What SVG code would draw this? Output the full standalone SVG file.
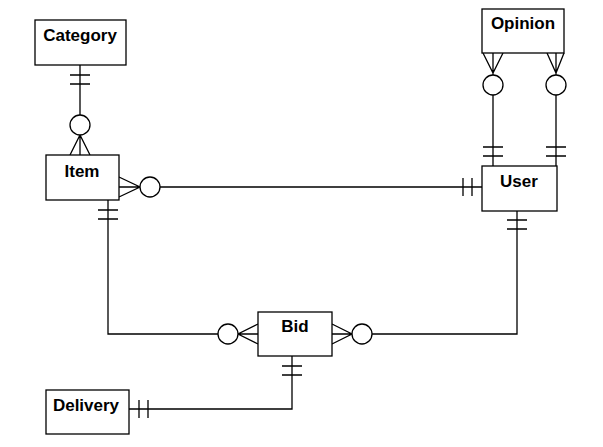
<svg xmlns="http://www.w3.org/2000/svg" width="603" height="447" viewBox="0 0 603 447">
<style>
.box{fill:#fff;stroke:#000;stroke-width:1.3}
.lbl{font-family:"Liberation Sans",Arial,sans-serif;font-weight:bold;font-size:17px;text-anchor:middle;fill:#000}
.ln{fill:none;stroke:#000;stroke-width:1.3}
.c{fill:#fff;stroke:#000;stroke-width:1.3}
</style>
<rect width="603" height="447" fill="#fff"/>
<g id="connectors">
  <!-- Category - Item -->
  <path class="ln" d="M80 65 V115 M70 75 H90 M70 84 H90 M70 155 L80 135 L90 155 M80 135 V155"/>
  <circle class="c" cx="80" cy="125" r="10"/>
  <!-- Item - User -->
  <path class="ln" d="M160 187 H482 M463 178 V196 M472 178 V196 M119 177 L140 187 L119 197 M119 187 H140"/>
  <circle class="c" cx="150" cy="187" r="10"/>
  <!-- Opinion - User (left) -->
  <path class="ln" d="M493 95 V166 M483 147 H503 M483 156 H503 M483 53 L493 73 L503 53 M493 53 V75"/>
  <circle class="c" cx="493" cy="85" r="10"/>
  <!-- Opinion - User (right) -->
  <path class="ln" d="M556 95 V166 M546 147 H566 M546 156 H566 M547 53 L556 73 L564 53 M556 53 V75"/>
  <circle class="c" cx="556" cy="85" r="10"/>
  <!-- Item - Bid -->
  <path class="ln" d="M108 200 V334 H218 M98 210 H118 M98 219 H118 M258 324 L238 334 L258 344 M238 334 H258"/>
  <circle class="c" cx="228" cy="334" r="10"/>
  <!-- User - Bid -->
  <path class="ln" d="M517 211 V334 H372 M507 220 H527 M507 229 H527 M332 324 L352 334 L332 344 M332 334 H352"/>
  <circle class="c" cx="362" cy="334" r="10"/>
  <!-- Bid - Delivery -->
  <path class="ln" d="M292 356 V409 H129 M282 366 H302 M282 375 H302 M139 400 V418 M148 400 V418"/>
</g>
<g id="category"><rect class="box" x="35" y="20" width="91" height="45"/><text class="lbl" x="80" y="41">Category</text></g>
<g id="item"><rect class="box" x="46" y="155" width="73" height="45"/><text class="lbl" x="82" y="177">Item</text></g>
<g id="opinion"><rect class="box" x="482" y="9" width="82" height="44"/><text class="lbl" x="523" y="29">Opinion</text></g>
<g id="user"><rect class="box" x="482" y="166" width="75" height="45"/><text class="lbl" x="519" y="187">User</text></g>
<g id="bid"><rect class="box" x="258" y="312" width="74" height="44"/><text class="lbl" x="295" y="332">Bid</text></g>
<g id="delivery"><rect class="box" x="46" y="390" width="83" height="44"/><text class="lbl" x="86" y="411">Delivery</text></g>
</svg>
